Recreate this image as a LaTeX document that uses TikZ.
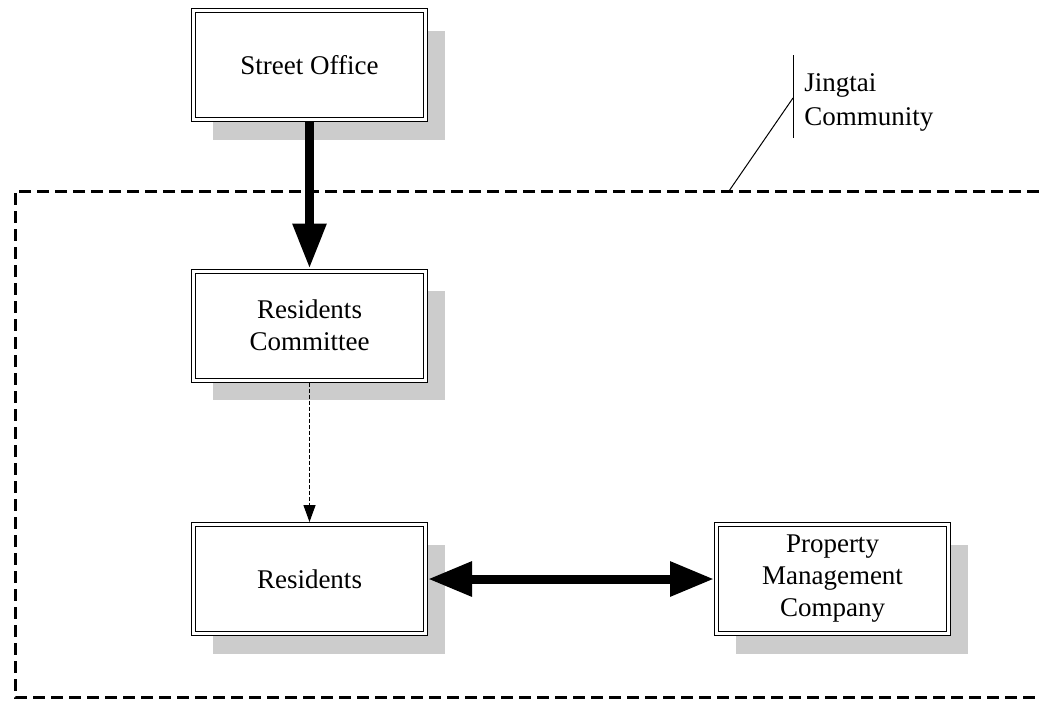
\documentclass[tikz,border=0pt]{standalone}
\usepackage{fontspec}
\setmainfont{Liberation Serif}
\usetikzlibrary{arrows.meta, shadows}

\begin{document}
\begin{tikzpicture}[x=0.5pt, y=-0.5pt,
    every node/.style={font=\fontsize{13.5}{16}\selectfont},
    unit/.style={draw, double, double distance=1.5pt, line width=0.5pt, fill=white,
        minimum width=116pt, minimum height=54.5pt, inner sep=0pt, outer sep=1.25pt, align=center,
        drop shadow={fill=black!20, opacity=1, shadow xshift=9.5pt, shadow yshift=-10pt}},
    heavy/.style={line width=4.5pt, -{Triangle[length=22.5pt, width=16pt]}},
    link/.style={line width=0.65pt, dash pattern=on 2pt off 1pt, -{Triangle[length=8.5pt, width=6pt]}},
    region/.style={line width=1.5pt, dash pattern=on 6pt off 3pt}]
    \useasboundingbox (0,0) rectangle (1039,702);

    % community boundary, open to the right
    \draw[region] (1039,191) -| (15,697) -- (1039,697);

    \node[unit] (office) at (309.5,65) {Street Office};
    \node[unit] (committee) at (309.5,325.5) {Residents\\Committee};
    \node[unit] (residents) at (309.5,579) {Residents};
    \node[unit] (pmc) at (832.5,579) {Property\\Management\\Company};

    \draw[heavy] (office) -- (committee);
    \draw[link] (committee) -- (residents);
    \draw[heavy, {Triangle[length=22pt, width=16.5pt]}-{Triangle[length=22pt, width=16.5pt]}] (residents) -- (pmc);

    % callout
    \node[anchor=north west, inner sep=0pt, align=left, font=\fontsize{13.5}{17}\selectfont] (jingtai) at (804,73) {Jingtai\\Community};
    \coordinate (tag) at (729,191);
    \coordinate (bend) at (793,98);
    \draw[line width=0.5pt] (tag) -- (bend);
    \draw[line width=0.5pt] (793,55) -- (793,138);
\end{tikzpicture}
\end{document}
